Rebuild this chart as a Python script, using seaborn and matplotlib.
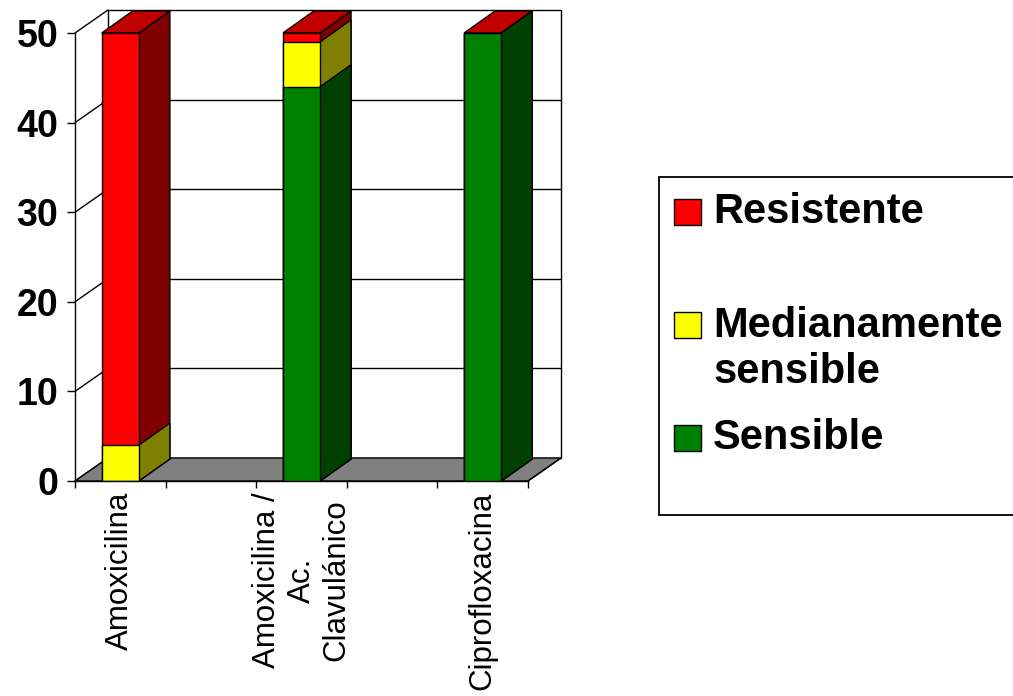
import matplotlib
matplotlib.use("Agg")
import matplotlib.pyplot as plt
import numpy as np
import pandas as pd
import seaborn as sns
from matplotlib.patches import Polygon, Rectangle
from matplotlib.lines import Line2D

# ---- data -------------------------------------------------------------
categories = ["Amoxicilina", "Amoxicilina /\nAc.\nClavulánico", "Ciprofloxacina"]
resistente = [46, 1, 0]
medianamente = [4, 5, 0]
sensible = [0, 44, 50]
series_names = ["Resistente", "Medianamente\nsensible", "Sensible"]
y_ticks = [0, 10, 20, 30, 40, 50]

# ---- styling ----------------------------------------------------------
sns.set_style("white")
plt.rcParams["font.family"] = ["Liberation Sans", "DejaVu Sans"]
plt.rcParams["text.color"] = "black"
plt.rcParams["xtick.color"] = "black"
plt.rcParams["ytick.color"] = "black"
plt.rcParams["axes.labelcolor"] = "black"

FRONT = ["#FF0000", "#FFFF00", "#008000"]   # resistente, medianamente, sensible
SIDE = ["#800000", "#808000", "#004000"]
TOP = "#C00000"
FLOOR = "#808080"

W, H = 1013, 696
fig = plt.figure(figsize=(W / 100, H / 100), dpi=100)
ax = fig.add_axes([75 / W, 1 - 481 / H, 453 / W, 448 / H])

# category slots: data categories separated by empty slots
order = [categories[0], " ", categories[1], "  ", categories[2]]

df = pd.DataFrame({
    "categoria": categories,
    "resistente": resistente,
    "medianamente": medianamente,
    "sensible": sensible,
})
df["sensible_cum"] = df["sensible"]
df["medianamente_cum"] = df["sensible"] + df["medianamente"]
df["resistente_cum"] = df["sensible"] + df["medianamente"] + df["resistente"]

# depth offsets of the pseudo-3D frame (data units)
WDX, WDY = 0.364, 2.57     # walls / floor
BDX, BDY = 0.342, 2.46     # bars
BAR_W = 0.41
x_lo, x_hi = -0.5, len(order) - 0.5
y_lo, y_hi = 0, 50

# back wall, grid lines, side wall and floor
ax.add_patch(Polygon([(x_lo + WDX, y_lo + WDY), (x_hi + WDX, y_lo + WDY),
                      (x_hi + WDX, y_hi + WDY), (x_lo + WDX, y_hi + WDY)],
                     closed=True, facecolor="white", edgecolor="black",
                     linewidth=1, zorder=1, clip_on=False))
for v in y_ticks[1:-1]:
    ax.add_line(Line2D([x_lo + WDX, x_hi + WDX], [v + WDY, v + WDY],
                       color="black", linewidth=1, zorder=1.2, clip_on=False))
for v in y_ticks:
    ax.add_line(Line2D([x_lo, x_lo + WDX], [v, v + WDY],
                       color="black", linewidth=1, zorder=1.2, clip_on=False))
ax.add_patch(Polygon([(x_lo, y_lo), (x_hi, y_lo), (x_hi + WDX, y_lo + WDY),
                      (x_lo + WDX, y_lo + WDY)],
                     closed=True, facecolor=FLOOR, edgecolor="black",
                     linewidth=1, zorder=2, clip_on=False))

# stacked bars: cumulative layers drawn from the tallest down
layers = ["resistente_cum", "medianamente_cum", "sensible_cum"]
for i, col in enumerate(layers):
    n_before = len(ax.patches)
    sns.barplot(data=df, x="categoria", y=col, order=order, color=FRONT[i],
                saturation=1, width=BAR_W, edgecolor="black", linewidth=1,
                errorbar=None, ax=ax, zorder=4 + i)
    new = ax.patches[n_before:]
    for p in new:
        h = p.get_height()
        x0 = p.get_x()
        x1 = x0 + p.get_width()
        if h <= 0:
            continue
        ax.add_patch(Polygon([(x1, 0), (x1 + BDX, BDY), (x1 + BDX, h + BDY), (x1, h)],
                             closed=True, facecolor=SIDE[i], edgecolor="black",
                             linewidth=1, zorder=3 + i, clip_on=False))
        if i == 0:
            ax.add_patch(Polygon([(x0, h), (x1, h), (x1 + BDX, h + BDY), (x0 + BDX, h + BDY)],
                                 closed=True, facecolor=TOP, edgecolor="black",
                                 linewidth=1, zorder=3, clip_on=False))

ax.set_xlim(x_lo, x_hi)
ax.set_ylim(y_lo, y_hi)
ax.set_xlabel("")
ax.set_ylabel("")

for s in ["top", "right"]:
    ax.spines[s].set_visible(False)
for s in ["left", "bottom"]:
    ax.spines[s].set_color("black")
    ax.spines[s].set_linewidth(1)
    ax.spines[s].set_zorder(2.5)
ax.add_line(Line2D([x_hi, x_hi + WDX], [0, WDY], color="black", linewidth=1,
                   zorder=2.5, clip_on=False))

# y axis
ax.set_yticks(y_ticks)
ax.set_yticklabels([str(v) for v in y_ticks], fontsize=27, fontweight="bold",
                   color="black")
ax.tick_params(axis="y", direction="out", length=6, width=1, color="black",
               labelcolor="black", pad=6, left=True)

# x axis: boundary ticks (major) and category labels (minor)
ax.set_xticks(np.arange(x_lo, x_hi + 0.01, 1.0))
ax.set_xticklabels([])
ax.tick_params(axis="x", which="major", direction="out", length=5, width=1,
               color="black", bottom=True)
cat_pos = [order.index(c) for c in categories]
ax.set_xticks(cat_pos, minor=True)
ax.set_xticklabels(categories, minor=True, rotation=90, fontsize=22.5,
                   ha="center", va="top", multialignment="center", color="black")
ax.tick_params(axis="x", which="minor", length=0, pad=8, labelcolor="black")

# legend box
def fx(px):
    return px / W

def fy(py):
    return 1 - py / H

fig.patches.append(Rectangle((fx(659), fy(515)), fx(1020) - fx(659), fy(177) - fy(515),
                             transform=fig.transFigure, facecolor="white",
                             edgecolor="black", linewidth=1.3, zorder=1))
marker_y = [212, 325, 438]
text_y = [212, 349, 438]
for name, color, my, ty in zip(series_names, FRONT, marker_y, text_y):
    fig.patches.append(Rectangle((fx(674), fy(my + 13)), fx(701) - fx(674), fy(my - 13) - fy(my + 13),
                                 transform=fig.transFigure, facecolor=color,
                                 edgecolor="black", linewidth=1, zorder=2))
    fig.text(fx(713), fy(ty), name, fontsize=30, fontweight="bold", color="black",
             ha="left", va="center", linespacing=1.17, zorder=3)

fig.savefig("out.png", dpi=100, facecolor="white")
